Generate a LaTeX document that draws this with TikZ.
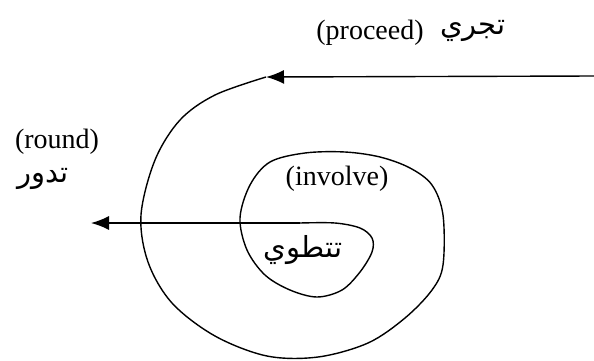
\documentclass[tikz,border=0pt]{standalone}
\usepackage{fontspec}
\setmainfont{Liberation Serif}
\newfontfamily\arabicfont[Script=Arabic]{DejaVu Sans}
\TeXXeTstate=1
\usetikzlibrary{arrows.meta}

\begin{document}
\begin{tikzpicture}[x=0.5pt,y=-0.5pt,
  lbl/.style={font=\fontsize{14}{16}\selectfont,inner sep=0pt},
  arb/.style={font=\arabicfont\fontsize{14.5}{16}\selectfont,inner sep=0pt},
  tip/.style={-{Latex[length=9pt,width=7pt]}},
  spiral/.style={line width=0.7pt}]
  % 1 unit = 1 pixel of the 594x360 sheet, y runs down
  \useasboundingbox (0,0) rectangle (594,360);
  \node[lbl] (proceed) at (370,33) {(proceed)};
  \node[arb] (tajri) at (473,31) {\beginR تجري\endR};
  \node[lbl] (round) at (57,142) {(round)};
  \node[arb] (tadur) at (43,179) {\beginR تدور\endR};
  \node[lbl] (involve) at (337,179) {(involve)};
  \node[arb] (tantawi) at (303,250) {\beginR تتطوي\endR};
  \coordinate (in) at (594,76);
  \coordinate (turn) at (266,77);
  \coordinate (hook) at (300,223);
  \coordinate (out) at (91,223);
  \draw[spiral,tip] (in) -- (turn);
  % outer turn, then the inner loop
  \draw[spiral] plot[smooth,tension=0.55] coordinates {(turn) (215,95) (180,120) (155,160) (141,215) (148,262) (172,303) (215,336) (267,356) (318,357) (368,343) (405,318) (432,290) (443,265) (443,215) (432,185) (410,168) (380,157) (345,152) (305,153) (270,162) (250,185) (240,218) (247,250) (265,275) (290,290) (317,297) (342,290) (360,272) (372,252) (372,238) (360,228) (335,223) (hook)};
  \draw[spiral,tip] (hook) -- (out);
\end{tikzpicture}
\end{document}
